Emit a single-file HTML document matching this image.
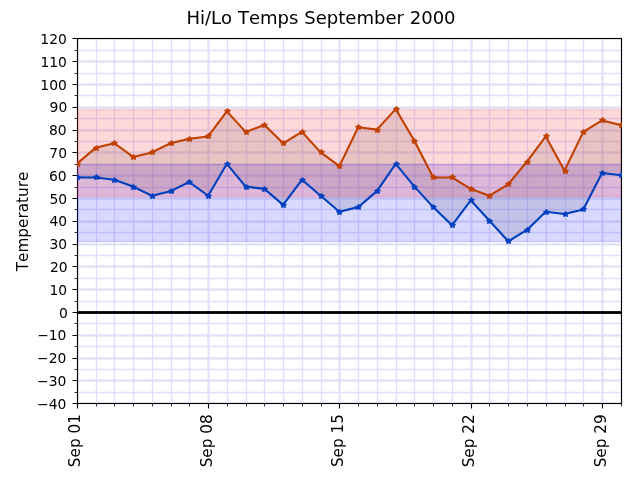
<!DOCTYPE html>
<html><head><meta charset="utf-8"><title>Hi/Lo Temps September 2000</title>
<style>html,body{margin:0;padding:0;background:#fff;width:640px;height:480px;overflow:hidden}svg{display:block;will-change:transform}</style>
</head><body>
<svg width="640" height="480" viewBox="0 0 640 480">
<rect width="640" height="480" fill="#fff"/>
<defs><clipPath id="ax"><rect x="77" y="38" width="544" height="365"/></clipPath><clipPath id="mk"><rect x="77" y="38" width="545" height="366"/></clipPath></defs>
<g clip-path="url(#ax)">
<path d="M77.5 38.5V403.5M208.5 38.5V403.5M339.5 38.5V403.5M471.5 38.5V403.5M602.5 38.5V403.5" stroke="#aaaad2" stroke-opacity="0.17" stroke-width="2.78" fill="none"/>
<path d="M77.5 38.5V403.5M96.5 38.5V403.5M114.5 38.5V403.5M133.5 38.5V403.5M152.5 38.5V403.5M171.5 38.5V403.5M189.5 38.5V403.5M208.5 38.5V403.5M227.5 38.5V403.5M246.5 38.5V403.5M264.5 38.5V403.5M283.5 38.5V403.5M302.5 38.5V403.5M321.5 38.5V403.5M339.5 38.5V403.5M358.5 38.5V403.5M377.5 38.5V403.5M396.5 38.5V403.5M414.5 38.5V403.5M433.5 38.5V403.5M452.5 38.5V403.5M471.5 38.5V403.5M489.5 38.5V403.5M508.5 38.5V403.5M527.5 38.5V403.5M546.5 38.5V403.5M565.5 38.5V403.5M583.5 38.5V403.5M602.5 38.5V403.5M621.5 38.5V403.5" stroke="#e0e0fc" stroke-width="1.39" fill="none"/>
<path d="M77.5 403.5H621.5M77.5 380.5H621.5M77.5 358.5H621.5M77.5 335.5H621.5M77.5 312.5H621.5M77.5 289.5H621.5M77.5 266.5H621.5M77.5 244.5H621.5M77.5 221.5H621.5M77.5 198.5H621.5M77.5 175.5H621.5M77.5 152.5H621.5M77.5 130.5H621.5M77.5 107.5H621.5M77.5 84.5H621.5M77.5 61.5H621.5M77.5 38.5H621.5" stroke="#aaaad2" stroke-opacity="0.17" stroke-width="2.78" fill="none"/>
<path d="M77.5 403.5H621.5M77.5 392.5H621.5M77.5 380.5H621.5M77.5 369.5H621.5M77.5 358.5H621.5M77.5 346.5H621.5M77.5 335.5H621.5M77.5 323.5H621.5M77.5 312.5H621.5M77.5 301.5H621.5M77.5 289.5H621.5M77.5 278.5H621.5M77.5 266.5H621.5M77.5 255.5H621.5M77.5 244.5H621.5M77.5 232.5H621.5M77.5 221.5H621.5M77.5 209.5H621.5M77.5 198.5H621.5M77.5 187.5H621.5M77.5 175.5H621.5M77.5 164.5H621.5M77.5 152.5H621.5M77.5 141.5H621.5M77.5 130.5H621.5M77.5 118.5H621.5M77.5 107.5H621.5M77.5 95.5H621.5M77.5 84.5H621.5M77.5 73.5H621.5M77.5 61.5H621.5M77.5 50.5H621.5M77.5 38.5H621.5" stroke="#e0e0fc" stroke-width="1.39" fill="none"/>
</g>
<path d="M72.5 403.5H77.5M72.5 380.5H77.5M72.5 358.5H77.5M72.5 335.5H77.5M72.5 312.5H77.5M72.5 289.5H77.5M72.5 266.5H77.5M72.5 244.5H77.5M72.5 221.5H77.5M72.5 198.5H77.5M72.5 175.5H77.5M72.5 152.5H77.5M72.5 130.5H77.5M72.5 107.5H77.5M72.5 84.5H77.5M72.5 61.5H77.5M72.5 38.5H77.5M77.5 403.5V408.5M208.5 403.5V408.5M339.5 403.5V408.5M471.5 403.5V408.5M602.5 403.5V408.5" stroke="#000" stroke-width="1.11"/>
<path d="M74.5 392.5H77.5M74.5 369.5H77.5M74.5 346.5H77.5M74.5 323.5H77.5M74.5 301.5H77.5M74.5 278.5H77.5M74.5 255.5H77.5M74.5 232.5H77.5M74.5 209.5H77.5M74.5 187.5H77.5M74.5 164.5H77.5M74.5 141.5H77.5M74.5 118.5H77.5M74.5 95.5H77.5M74.5 73.5H77.5M74.5 50.5H77.5M96.5 403.5V406.5M114.5 403.5V406.5M133.5 403.5V406.5M152.5 403.5V406.5M171.5 403.5V406.5M189.5 403.5V406.5M227.5 403.5V406.5M246.5 403.5V406.5M264.5 403.5V406.5M283.5 403.5V406.5M302.5 403.5V406.5M321.5 403.5V406.5M358.5 403.5V406.5M377.5 403.5V406.5M396.5 403.5V406.5M414.5 403.5V406.5M433.5 403.5V406.5M452.5 403.5V406.5M489.5 403.5V406.5M508.5 403.5V406.5M527.5 403.5V406.5M546.5 403.5V406.5M565.5 403.5V406.5M583.5 403.5V406.5M621.5 403.5V406.5" stroke="#000" stroke-width="0.83"/>
<rect x="77.5" y="38.5" width="544" height="365" fill="none" stroke="#000" stroke-width="1.11" stroke-linejoin="miter"/>
<g clip-path="url(#ax)">
<path d="M76.8 163.8L95.56 147.84L114.32 143.28L133.08 156.96L151.83 152.4L170.59 143.28L189.35 138.72L208.11 136.44L226.87 111.36L245.63 131.88L264.39 125.04L283.14 143.28L301.9 131.88L320.66 152.4L339.42 166.08L358.18 127.32L376.94 129.6L395.7 109.08L414.46 141L433.21 177.48L451.97 177.48L470.73 188.88L489.49 195.72L508.25 184.32L527.01 161.52L545.77 136.44L564.52 170.64L583.28 131.88L602.04 120.48L620.8 125.04L620.8 175.2L602.04 172.92L583.28 209.4L564.52 213.96L545.77 211.68L527.01 229.92L508.25 241.32L489.49 220.8L470.73 200.28L451.97 225.36L433.21 207.12L414.46 186.6L395.7 163.8L376.94 191.16L358.18 207.12L339.42 211.68L320.66 195.72L301.9 179.76L283.14 204.84L264.39 188.88L245.63 186.6L226.87 163.8L208.11 195.72L189.35 182.04L170.59 191.16L151.83 195.72L133.08 186.6L114.32 179.76L95.56 177.48L76.8 177.48Z" fill="#808080" fill-opacity="0.2" stroke="#808080" stroke-opacity="0.2" stroke-width="1.39"/>
<rect x="77.5" y="164.5" width="544" height="77" fill="#0000ff" fill-opacity="0.15"/>
<rect x="77.5" y="164.5" width="544" height="77" fill="none" stroke="#0000ff" stroke-opacity="0.15" stroke-width="1.39"/>
<rect x="77.5" y="109.5" width="544" height="87" fill="#ff0000" fill-opacity="0.15"/>
<rect x="77.5" y="109.5" width="544" height="87" fill="none" stroke="#ff0000" stroke-opacity="0.15" stroke-width="1.39"/>
<rect x="77" y="311" width="544" height="3" fill="#000" fill-opacity="0.9"/>
<rect x="77" y="312" width="544" height="1" fill="#000"/>
<path d="M76.8 163.8L95.56 147.84L114.32 143.28L133.08 156.96L151.83 152.4L170.59 143.28L189.35 138.72L208.11 136.44L226.87 111.36L245.63 131.88L264.39 125.04L283.14 143.28L301.9 131.88L320.66 152.4L339.42 166.08L358.18 127.32L376.94 129.6L395.7 109.08L414.46 141L433.21 177.48L451.97 177.48L470.73 188.88L489.49 195.72L508.25 184.32L527.01 161.52L545.77 136.44L564.52 170.64L583.28 131.88L602.04 120.48L620.8 125.04" fill="none" stroke="#c04000" stroke-width="2.08" stroke-linejoin="round" stroke-linecap="square"/>
<path d="M76.8 177.48L95.56 177.48L114.32 179.76L133.08 186.6L151.83 195.72L170.59 191.16L189.35 182.04L208.11 195.72L226.87 163.8L245.63 186.6L264.39 188.88L283.14 204.84L301.9 179.76L320.66 195.72L339.42 211.68L358.18 207.12L376.94 191.16L395.7 163.8L414.46 186.6L433.21 207.12L451.97 225.36L470.73 200.28L489.49 220.8L508.25 241.32L527.01 229.92L545.77 211.68L564.52 213.96L583.28 209.4L602.04 172.92L620.8 175.2" fill="none" stroke="#0040bf" stroke-width="2.08" stroke-linejoin="round" stroke-linecap="square"/>
</g>
<g clip-path="url(#mk)">
<path d="M77.5 161.5L76.5 163.5L74.5 163.5L76.5 164.5L75.5 166.5L77.5 165.5L79.5 166.5L78.5 164.5L80.5 163.5L78.5 163.5ZM96.5 145.5L95.5 147.5L93.5 147.5L95.5 148.5L94.5 150.5L96.5 149.5L98.5 150.5L97.5 148.5L99.5 147.5L97.5 147.5ZM114.5 140.5L113.5 142.5L111.5 142.5L113.5 143.5L112.5 145.5L114.5 144.5L116.5 145.5L115.5 143.5L117.5 142.5L115.5 142.5ZM133.5 154.5L132.5 156.5L130.5 156.5L132.5 157.5L131.5 159.5L133.5 158.5L135.5 159.5L134.5 157.5L136.5 156.5L134.5 156.5ZM152.5 149.5L151.5 151.5L149.5 151.5L151.5 152.5L150.5 154.5L152.5 153.5L154.5 154.5L153.5 152.5L155.5 151.5L153.5 151.5ZM171.5 140.5L170.5 142.5L168.5 142.5L170.5 143.5L169.5 145.5L171.5 144.5L173.5 145.5L172.5 143.5L174.5 142.5L172.5 142.5ZM189.5 136.5L188.5 138.5L186.5 138.5L188.5 139.5L187.5 141.5L189.5 140.5L191.5 141.5L190.5 139.5L192.5 138.5L190.5 138.5ZM208.5 133.5L207.5 135.5L205.5 135.5L207.5 136.5L206.5 138.5L208.5 137.5L210.5 138.5L209.5 136.5L211.5 135.5L209.5 135.5ZM227.5 108.5L226.5 110.5L224.5 110.5L226.5 111.5L225.5 113.5L227.5 112.5L229.5 113.5L228.5 111.5L230.5 110.5L228.5 110.5ZM246.5 129.5L245.5 131.5L243.5 131.5L245.5 132.5L244.5 134.5L246.5 133.5L248.5 134.5L247.5 132.5L249.5 131.5L247.5 131.5ZM264.5 122.5L263.5 124.5L261.5 124.5L263.5 125.5L262.5 127.5L264.5 126.5L266.5 127.5L265.5 125.5L267.5 124.5L265.5 124.5ZM283.5 140.5L282.5 142.5L280.5 142.5L282.5 143.5L281.5 145.5L283.5 144.5L285.5 145.5L284.5 143.5L286.5 142.5L284.5 142.5ZM302.5 129.5L301.5 131.5L299.5 131.5L301.5 132.5L300.5 134.5L302.5 133.5L304.5 134.5L303.5 132.5L305.5 131.5L303.5 131.5ZM321.5 149.5L320.5 151.5L318.5 151.5L320.5 152.5L319.5 154.5L321.5 153.5L323.5 154.5L322.5 152.5L324.5 151.5L322.5 151.5ZM339.5 163.5L338.5 165.5L336.5 165.5L338.5 166.5L337.5 168.5L339.5 167.5L341.5 168.5L340.5 166.5L342.5 165.5L340.5 165.5ZM358.5 124.5L357.5 126.5L355.5 126.5L357.5 127.5L356.5 129.5L358.5 128.5L360.5 129.5L359.5 127.5L361.5 126.5L359.5 126.5ZM377.5 127.5L376.5 129.5L374.5 129.5L376.5 130.5L375.5 132.5L377.5 131.5L379.5 132.5L378.5 130.5L380.5 129.5L378.5 129.5ZM396.5 106.5L395.5 108.5L393.5 108.5L395.5 109.5L394.5 111.5L396.5 110.5L398.5 111.5L397.5 109.5L399.5 108.5L397.5 108.5ZM414.5 138.5L413.5 140.5L411.5 140.5L413.5 141.5L412.5 143.5L414.5 142.5L416.5 143.5L415.5 141.5L417.5 140.5L415.5 140.5ZM433.5 174.5L432.5 176.5L430.5 176.5L432.5 177.5L431.5 179.5L433.5 178.5L435.5 179.5L434.5 177.5L436.5 176.5L434.5 176.5ZM452.5 174.5L451.5 176.5L449.5 176.5L451.5 177.5L450.5 179.5L452.5 178.5L454.5 179.5L453.5 177.5L455.5 176.5L453.5 176.5ZM471.5 186.5L470.5 188.5L468.5 188.5L470.5 189.5L469.5 191.5L471.5 190.5L473.5 191.5L472.5 189.5L474.5 188.5L472.5 188.5ZM489.5 193.5L488.5 195.5L486.5 195.5L488.5 196.5L487.5 198.5L489.5 197.5L491.5 198.5L490.5 196.5L492.5 195.5L490.5 195.5ZM508.5 181.5L507.5 183.5L505.5 183.5L507.5 184.5L506.5 186.5L508.5 185.5L510.5 186.5L509.5 184.5L511.5 183.5L509.5 183.5ZM527.5 159.5L526.5 161.5L524.5 161.5L526.5 162.5L525.5 164.5L527.5 163.5L529.5 164.5L528.5 162.5L530.5 161.5L528.5 161.5ZM546.5 133.5L545.5 135.5L543.5 135.5L545.5 136.5L544.5 138.5L546.5 137.5L548.5 138.5L547.5 136.5L549.5 135.5L547.5 135.5ZM565.5 168.5L564.5 170.5L562.5 170.5L564.5 171.5L563.5 173.5L565.5 172.5L567.5 173.5L566.5 171.5L568.5 170.5L566.5 170.5ZM583.5 129.5L582.5 131.5L580.5 131.5L582.5 132.5L581.5 134.5L583.5 133.5L585.5 134.5L584.5 132.5L586.5 131.5L584.5 131.5ZM602.5 117.5L601.5 119.5L599.5 119.5L601.5 120.5L600.5 122.5L602.5 121.5L604.5 122.5L603.5 120.5L605.5 119.5L603.5 119.5ZM621.5 122.5L620.5 124.5L618.5 124.5L620.5 125.5L619.5 127.5L621.5 126.5L623.5 127.5L622.5 125.5L624.5 124.5L622.5 124.5Z" fill="#c04000" stroke="#c04000" stroke-width="1.39" stroke-linejoin="bevel"/>
<path d="M77.5 174.5L76.5 176.5L74.5 176.5L76.5 177.5L75.5 179.5L77.5 178.5L79.5 179.5L78.5 177.5L80.5 176.5L78.5 176.5ZM96.5 174.5L95.5 176.5L93.5 176.5L95.5 177.5L94.5 179.5L96.5 178.5L98.5 179.5L97.5 177.5L99.5 176.5L97.5 176.5ZM114.5 177.5L113.5 179.5L111.5 179.5L113.5 180.5L112.5 182.5L114.5 181.5L116.5 182.5L115.5 180.5L117.5 179.5L115.5 179.5ZM133.5 184.5L132.5 186.5L130.5 186.5L132.5 187.5L131.5 189.5L133.5 188.5L135.5 189.5L134.5 187.5L136.5 186.5L134.5 186.5ZM152.5 193.5L151.5 195.5L149.5 195.5L151.5 196.5L150.5 198.5L152.5 197.5L154.5 198.5L153.5 196.5L155.5 195.5L153.5 195.5ZM171.5 188.5L170.5 190.5L168.5 190.5L170.5 191.5L169.5 193.5L171.5 192.5L173.5 193.5L172.5 191.5L174.5 190.5L172.5 190.5ZM189.5 179.5L188.5 181.5L186.5 181.5L188.5 182.5L187.5 184.5L189.5 183.5L191.5 184.5L190.5 182.5L192.5 181.5L190.5 181.5ZM208.5 193.5L207.5 195.5L205.5 195.5L207.5 196.5L206.5 198.5L208.5 197.5L210.5 198.5L209.5 196.5L211.5 195.5L209.5 195.5ZM227.5 161.5L226.5 163.5L224.5 163.5L226.5 164.5L225.5 166.5L227.5 165.5L229.5 166.5L228.5 164.5L230.5 163.5L228.5 163.5ZM246.5 184.5L245.5 186.5L243.5 186.5L245.5 187.5L244.5 189.5L246.5 188.5L248.5 189.5L247.5 187.5L249.5 186.5L247.5 186.5ZM264.5 186.5L263.5 188.5L261.5 188.5L263.5 189.5L262.5 191.5L264.5 190.5L266.5 191.5L265.5 189.5L267.5 188.5L265.5 188.5ZM283.5 202.5L282.5 204.5L280.5 204.5L282.5 205.5L281.5 207.5L283.5 206.5L285.5 207.5L284.5 205.5L286.5 204.5L284.5 204.5ZM302.5 177.5L301.5 179.5L299.5 179.5L301.5 180.5L300.5 182.5L302.5 181.5L304.5 182.5L303.5 180.5L305.5 179.5L303.5 179.5ZM321.5 193.5L320.5 195.5L318.5 195.5L320.5 196.5L319.5 198.5L321.5 197.5L323.5 198.5L322.5 196.5L324.5 195.5L322.5 195.5ZM339.5 209.5L338.5 211.5L336.5 211.5L338.5 212.5L337.5 214.5L339.5 213.5L341.5 214.5L340.5 212.5L342.5 211.5L340.5 211.5ZM358.5 204.5L357.5 206.5L355.5 206.5L357.5 207.5L356.5 209.5L358.5 208.5L360.5 209.5L359.5 207.5L361.5 206.5L359.5 206.5ZM377.5 188.5L376.5 190.5L374.5 190.5L376.5 191.5L375.5 193.5L377.5 192.5L379.5 193.5L378.5 191.5L380.5 190.5L378.5 190.5ZM396.5 161.5L395.5 163.5L393.5 163.5L395.5 164.5L394.5 166.5L396.5 165.5L398.5 166.5L397.5 164.5L399.5 163.5L397.5 163.5ZM414.5 184.5L413.5 186.5L411.5 186.5L413.5 187.5L412.5 189.5L414.5 188.5L416.5 189.5L415.5 187.5L417.5 186.5L415.5 186.5ZM433.5 204.5L432.5 206.5L430.5 206.5L432.5 207.5L431.5 209.5L433.5 208.5L435.5 209.5L434.5 207.5L436.5 206.5L434.5 206.5ZM452.5 222.5L451.5 224.5L449.5 224.5L451.5 225.5L450.5 227.5L452.5 226.5L454.5 227.5L453.5 225.5L455.5 224.5L453.5 224.5ZM471.5 197.5L470.5 199.5L468.5 199.5L470.5 200.5L469.5 202.5L471.5 201.5L473.5 202.5L472.5 200.5L474.5 199.5L472.5 199.5ZM489.5 218.5L488.5 220.5L486.5 220.5L488.5 221.5L487.5 223.5L489.5 222.5L491.5 223.5L490.5 221.5L492.5 220.5L490.5 220.5ZM508.5 238.5L507.5 240.5L505.5 240.5L507.5 241.5L506.5 243.5L508.5 242.5L510.5 243.5L509.5 241.5L511.5 240.5L509.5 240.5ZM527.5 227.5L526.5 229.5L524.5 229.5L526.5 230.5L525.5 232.5L527.5 231.5L529.5 232.5L528.5 230.5L530.5 229.5L528.5 229.5ZM546.5 209.5L545.5 211.5L543.5 211.5L545.5 212.5L544.5 214.5L546.5 213.5L548.5 214.5L547.5 212.5L549.5 211.5L547.5 211.5ZM565.5 211.5L564.5 213.5L562.5 213.5L564.5 214.5L563.5 216.5L565.5 215.5L567.5 216.5L566.5 214.5L568.5 213.5L566.5 213.5ZM583.5 206.5L582.5 208.5L580.5 208.5L582.5 209.5L581.5 211.5L583.5 210.5L585.5 211.5L584.5 209.5L586.5 208.5L584.5 208.5ZM602.5 170.5L601.5 172.5L599.5 172.5L601.5 173.5L600.5 175.5L602.5 174.5L604.5 175.5L603.5 173.5L605.5 172.5L603.5 172.5ZM621.5 172.5L620.5 174.5L618.5 174.5L620.5 175.5L619.5 177.5L621.5 176.5L623.5 177.5L622.5 175.5L624.5 174.5L622.5 174.5Z" fill="#0040bf" stroke="#0040bf" stroke-width="1.39" stroke-linejoin="bevel"/>
</g>
<g font-family="DejaVu Sans, Liberation Sans, sans-serif" fill="#000" style="font-kerning:none">
<text x="66.35" y="409" font-size="13.889" text-anchor="end">−40</text>
<text x="66.39" y="386" font-size="13.889" text-anchor="end">−30</text>
<text x="66.34" y="363" font-size="13.889" text-anchor="end">−20</text>
<text x="66.41" y="340" font-size="13.889" text-anchor="end">−10</text>
<text x="67.78" y="318" font-size="13.889" text-anchor="end">0</text>
<text x="67.13" y="295" font-size="13.889" text-anchor="end">10</text>
<text x="67.64" y="272" font-size="13.889" text-anchor="end">20</text>
<text x="67.18" y="249" font-size="13.889" text-anchor="end">30</text>
<text x="67.11" y="226" font-size="13.889" text-anchor="end">40</text>
<text x="67.11" y="204" font-size="13.889" text-anchor="end">50</text>
<text x="66.7" y="181" font-size="13.889" text-anchor="end">60</text>
<text x="67" y="158" font-size="13.889" text-anchor="end">70</text>
<text x="66.71" y="135" font-size="13.889" text-anchor="end">80</text>
<text x="67.22" y="112" font-size="13.889" text-anchor="end">90</text>
<text x="66.8" y="90" font-size="13.889" text-anchor="end">100</text>
<text x="66.94" y="67" font-size="13.889" text-anchor="end">110</text>
<text x="66.85" y="44" font-size="13.889" text-anchor="end">120</text>
<text transform="translate(80.06 467.13) rotate(-90)" font-size="15.278">Sep 01</text>
<text transform="translate(212.38 467.32) rotate(-90)" font-size="15.278">Sep 08</text>
<text transform="translate(342.67 467.12) rotate(-90)" font-size="15.278">Sep 15</text>
<text transform="translate(473.96 467.35) rotate(-90)" font-size="15.278">Sep 22</text>
<text transform="translate(606.27 467.33) rotate(-90)" font-size="15.278">Sep 29</text>
<text transform="translate(28.06 221.4) rotate(-90)" font-size="15.278" text-anchor="middle">Temperature</text>
<text x="321.01" y="24.34" font-size="18.056" text-anchor="middle">Hi/Lo Temps September 2000</text>
</g>
</svg>
</body></html>
